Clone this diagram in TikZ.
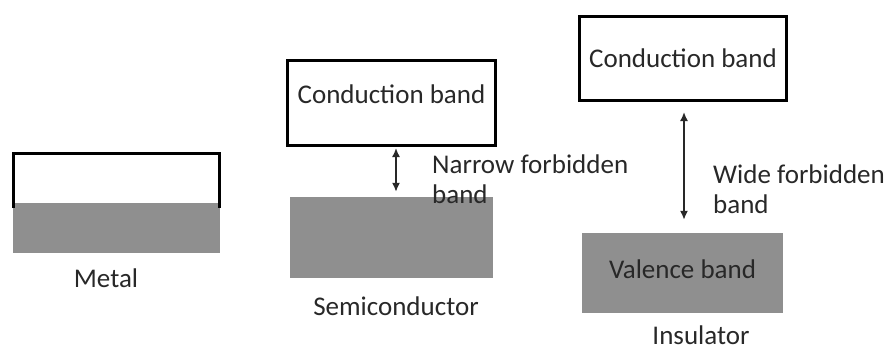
\documentclass[tikz,border=0pt]{standalone}
\usepackage{fontspec}
\setmainfont{Carlito}
\usepackage{xcolor}
\usetikzlibrary{arrows.meta}
\definecolor{bandgray}{RGB}{143,143,143}
\definecolor{inkgray}{RGB}{40,40,40}

\tikzset{
  cband/.style={draw=black, line width=3pt, fill=white, inner sep=0pt},
  vband/.style={fill=bandgray, inner sep=0pt},
  txt/.style={font=\fontsize{27}{30}\selectfont, text=inkgray, inner sep=0pt},
  gap/.style={{Latex[length=9pt,width=8pt]}-{Latex[length=9pt,width=8pt]}, line width=1.6pt, draw=inkgray}
}

\begin{document}
\begin{tikzpicture}[x=1pt,y=-1pt]
  \useasboundingbox (0,0) rectangle (891,351);

  % metal: the bands overlap
  \node[vband, minimum width=207pt, minimum height=50pt] (mvb) at (116.5,228) {};
  \draw[line width=3pt] (13.5,208) |- (219.5,153.5) -- (219.5,208);
  \node[txt, anchor=base] (mlbl) at (106,287) {Metal};

  % semiconductor
  \node[cband, txt, minimum width=208pt, minimum height=85pt, text height=20pt, text depth=20pt] (scb) at (391.5,103) {Conduction band};
  \node[vband, minimum width=203pt, minimum height=81pt] (svb) at (391.5,237.5) {};
  \draw[gap, shorten <=1pt, shorten >=5pt] ([xshift=4.5pt]scb.south) -- ([xshift=4.5pt]svb.north);
  % base of a two-line node sits on its last line
  \node[txt, anchor=base west, align=left] (sgap) at (432,203) {Narrow forbidden\\band};
  \node[txt, anchor=base] (slbl) at (396,315) {Semiconductor};

  % insulator
  \node[cband, txt, minimum width=207pt, minimum height=84pt, text height=20pt, text depth=3pt] (icb) at (683,58.5) {Conduction band};
  \node[vband, txt, minimum width=201pt, minimum height=80pt, text height=20pt, text depth=10pt] (ivb) at (682.5,273) {Valence band};
  \draw[gap, shorten <=10pt, shorten >=13pt] ([xshift=1pt]icb.south) -- ([xshift=1.5pt]ivb.north);
  \node[txt, anchor=base west, align=left] (igap) at (713,213) {Wide forbidden\\band};
  \node[txt, anchor=base] (ilbl) at (701,344) {Insulator};
\end{tikzpicture}
\end{document}
